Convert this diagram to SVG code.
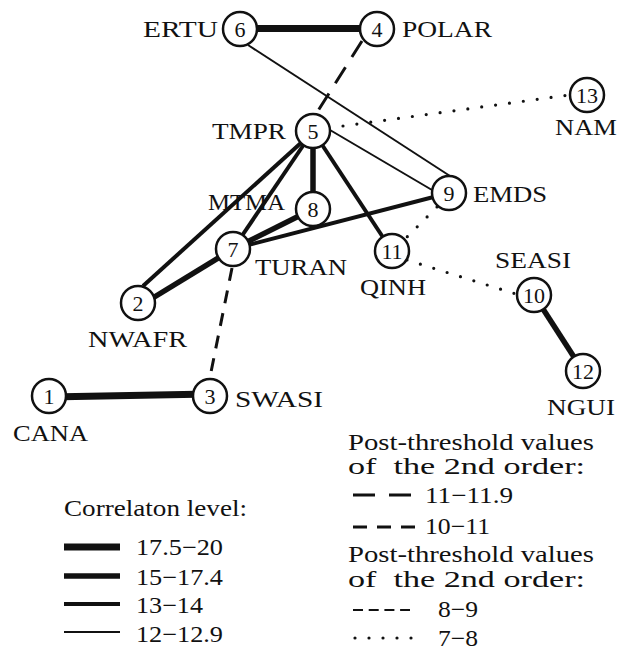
<svg xmlns="http://www.w3.org/2000/svg" width="626" height="650" viewBox="0 0 626 650">
<style>
text{font-family:"Liberation Serif","Times New Roman",serif;fill:#111}
.lbl{font-size:23px}
.num{font-size:22px;text-anchor:middle}
.node circle{fill:#fff;stroke:#111;stroke-width:2.5}
.e{stroke:#111;fill:none}
.w7{stroke-width:7}
.w55{stroke-width:5.5}
.w4{stroke-width:4}
.w2{stroke-width:2}
.dl{stroke-width:3;stroke-dasharray:19 12}
.ds{stroke-width:3;stroke-dasharray:13 10}
.dt{stroke-width:3.2;stroke-dasharray:0 14;stroke-linecap:round}
</style>
<rect width="626" height="650" fill="#fff"/>
<g id="connectors">
<line class="e w7" x1="240" y1="28.5" x2="377" y2="28.5"/>
<line class="e w7" x1="49" y1="397" x2="210" y2="394"/>
<line class="e w55" x1="534" y1="295" x2="583" y2="371"/>
<line class="e w55" x1="313" y1="131" x2="313" y2="209"/>
<line class="e w55" x1="233" y1="249" x2="313" y2="209"/>
<line class="e w55" x1="138" y1="307" x2="233" y2="249"/>
<line class="e w4" x1="313" y1="132" x2="143" y2="286"/>
<line class="e w4" x1="313" y1="131" x2="233" y2="249"/>
<line class="e w4" x1="313" y1="131" x2="392" y2="251"/>
<line class="e w4" x1="233" y1="249" x2="449" y2="193"/>
<line class="e w2" x1="330" y1="130" x2="432" y2="190"/>
<line class="e w2" x1="248" y1="45" x2="450" y2="176"/>
<line class="e dl" x1="362" y1="41" x2="316" y2="114"/>
<line class="e ds" x1="232" y1="268" x2="210" y2="377"/>
<line class="e dt" x1="343" y1="126" x2="569" y2="95"/>
<line class="e dt" x1="437" y1="207" x2="404" y2="240"/>
<line class="e dt" x1="407" y1="260" x2="516" y2="294"/>
</g>
<g id="n1" class="node"><circle cx="49" cy="396" r="17"/><text class="num" x="49" y="403.5">1</text><text class="lbl" x="13" y="441" textLength="75" lengthAdjust="spacingAndGlyphs">CANA</text></g>
<g id="n2" class="node"><circle cx="138" cy="303" r="17"/><text class="num" x="138" y="310.5">2</text><text class="lbl" x="88" y="347" textLength="99" lengthAdjust="spacingAndGlyphs">NWAFR</text></g>
<g id="n3" class="node"><circle cx="210" cy="396" r="17"/><text class="num" x="210" y="403.5">3</text><text class="lbl" x="235" y="407" textLength="88" lengthAdjust="spacingAndGlyphs">SWASI</text></g>
<g id="n4" class="node"><circle cx="377" cy="29" r="17"/><text class="num" x="377" y="36.5">4</text><text class="lbl" x="402" y="37" textLength="90" lengthAdjust="spacingAndGlyphs">POLAR</text></g>
<g id="n5" class="node"><circle cx="313" cy="131" r="17"/><text class="num" x="313" y="138.5">5</text><text class="lbl" x="212" y="139" textLength="74" lengthAdjust="spacingAndGlyphs">TMPR</text></g>
<g id="n6" class="node"><circle cx="240" cy="29" r="17"/><text class="num" x="240" y="36.5">6</text><text class="lbl" x="143" y="37" textLength="75" lengthAdjust="spacingAndGlyphs">ERTU</text></g>
<g id="n7" class="node"><circle cx="233" cy="249" r="17"/><text class="num" x="233" y="256.5">7</text><text class="lbl" x="255" y="275" textLength="92" lengthAdjust="spacingAndGlyphs">TURAN</text></g>
<g id="n8" class="node"><circle cx="313" cy="209" r="17"/><text class="num" x="313" y="216.5">8</text><text class="lbl" x="208" y="210" textLength="77" lengthAdjust="spacingAndGlyphs">MTMA</text></g>
<g id="n9" class="node"><circle cx="449" cy="193" r="17"/><text class="num" x="449" y="200.5">9</text><text class="lbl" x="473" y="202" textLength="74" lengthAdjust="spacingAndGlyphs">EMDS</text></g>
<g id="n10" class="node"><circle cx="534" cy="295" r="17"/><text class="num" x="534" y="302.5">10</text><text class="lbl" x="495" y="268" textLength="76" lengthAdjust="spacingAndGlyphs">SEASI</text></g>
<g id="n11" class="node"><circle cx="392" cy="251" r="17"/><text class="num" x="392" y="258.5">11</text><text class="lbl" x="360" y="295" textLength="66" lengthAdjust="spacingAndGlyphs">QINH</text></g>
<g id="n12" class="node"><circle cx="583" cy="371" r="17"/><text class="num" x="583" y="378.5">12</text><text class="lbl" x="547" y="415" textLength="68" lengthAdjust="spacingAndGlyphs">NGUI</text></g>
<g id="n13" class="node"><circle cx="587" cy="95" r="17"/><text class="num" x="587" y="102.5">13</text><text class="lbl" x="555" y="135" textLength="62" lengthAdjust="spacingAndGlyphs">NAM</text></g>
<g id="legend-correlation">
<text class="lbl" x="64" y="516" textLength="183" lengthAdjust="spacingAndGlyphs">Correlaton level:</text>
<line class="e w7" x1="64" y1="547" x2="120" y2="547"/>
<line class="e w55" x1="64" y1="576" x2="120" y2="576"/>
<line class="e w4" x1="64" y1="604" x2="120" y2="604"/>
<line class="e w2" x1="64" y1="632" x2="120" y2="632"/>
<text class="lbl" x="136" y="555" textLength="87" lengthAdjust="spacingAndGlyphs">17.5−20</text>
<text class="lbl" x="136" y="585" textLength="87" lengthAdjust="spacingAndGlyphs">15−17.4</text>
<text class="lbl" x="136" y="613" textLength="67" lengthAdjust="spacingAndGlyphs">13−14</text>
<text class="lbl" x="136" y="642" textLength="87" lengthAdjust="spacingAndGlyphs">12−12.9</text>
</g>
<g id="legend-threshold">
<text class="lbl" x="348" y="450" textLength="246" lengthAdjust="spacingAndGlyphs">Post-threshold values</text>
<text class="lbl" x="348" y="474" textLength="237" lengthAdjust="spacingAndGlyphs" xml:space="preserve">of  the 2nd order:</text>
<line class="e" stroke-width="3" stroke-dasharray="22 14" x1="353" y1="495" x2="412" y2="495"/>
<text class="lbl" x="425" y="503" textLength="88" lengthAdjust="spacingAndGlyphs">11−11.9</text>
<line class="e" stroke-width="3" stroke-dasharray="14 10" x1="353" y1="527" x2="416" y2="527"/>
<text class="lbl" x="425" y="534" textLength="65" lengthAdjust="spacingAndGlyphs">10−11</text>
<text class="lbl" x="348" y="562" textLength="246" lengthAdjust="spacingAndGlyphs">Post-threshold values</text>
<text class="lbl" x="348" y="587" textLength="237" lengthAdjust="spacingAndGlyphs" xml:space="preserve">of  the 2nd order:</text>
<line class="e" stroke-width="2" stroke-dasharray="10 5.7" x1="353" y1="610" x2="410" y2="610"/>
<text class="lbl" x="438" y="617" textLength="40" lengthAdjust="spacingAndGlyphs">8−9</text>
<line class="e dt" stroke-width="3" x1="355" y1="638" x2="413" y2="638"/>
<text class="lbl" x="438" y="646" textLength="40" lengthAdjust="spacingAndGlyphs">7−8</text>
</g>
</svg>
